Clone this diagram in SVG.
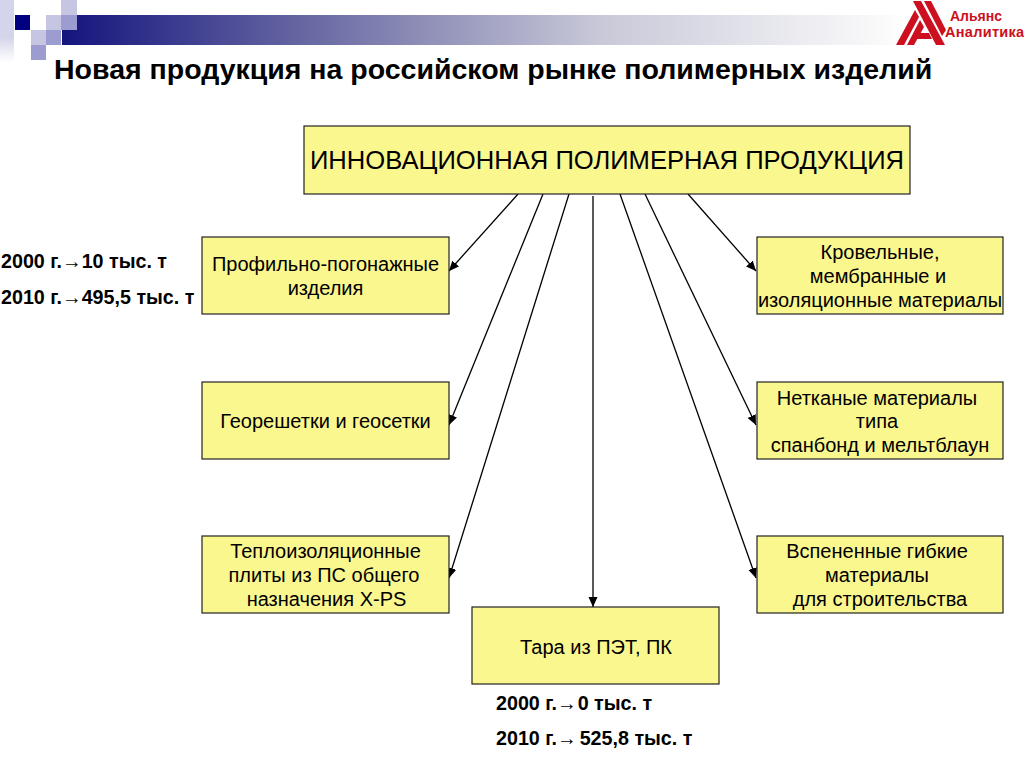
<svg xmlns="http://www.w3.org/2000/svg" width="1024" height="768" viewBox="0 0 1024 768">
<style>
text{font-family:"Liberation Sans",Arial,sans-serif;fill:#000}
.t{font-size:20px;text-anchor:middle}
.b{font-size:19.7px;font-weight:bold}
.ar{font-family:"Liberation Sans",sans-serif;font-weight:normal}
.n{fill:#fbf78f;stroke:#222;stroke-width:1.2}
.c line{stroke:#000;stroke-width:1.3;marker-end:url(#a)}
.l{fill:#cc1020}
.lt{fill:#cc1020;font-size:14.500px;font-weight:bold;letter-spacing:.3px}
</style>
<defs>
<marker id="a" markerUnits="userSpaceOnUse" markerWidth="11" markerHeight="10" refX="10" refY="5" orient="auto"><path d="M0 0.5L10 5L0 9.500Z" fill="#000"/></marker>
<linearGradient id="g1" gradientUnits="userSpaceOnUse" x1="62" y1="0" x2="900" y2="0"><stop offset="0" stop-color="#14147e"/><stop offset=".3" stop-color="#6a6aa4"/><stop offset=".64" stop-color="#c8c8d8"/><stop offset="1" stop-color="#fdfdfd"/></linearGradient>
<linearGradient id="g3" x1="0" y1="0" x2="0" y2="1"><stop offset=".6" stop-color="#d4d4ea"/><stop offset="1" stop-color="#ffffff"/></linearGradient>
</defs>
<g id="decor">
<rect x="62" y="15" width="838" height="30" fill="url(#g1)"/>
<rect x="0" y="0" width="14" height="62" fill="url(#g3)"/>
<rect x="15" y="15" width="15" height="15" fill="#000080"/>
<rect x="46" y="15" width="15" height="15" fill="#c6c6e2"/>
<rect x="61" y="0" width="16" height="15" fill="#c6c6e2"/>
<rect x="61" y="15" width="16" height="15" fill="#9c9cd0"/>
<rect x="31" y="30" width="15" height="15" fill="#c6c6e2"/>
<rect x="46" y="30" width="15" height="15" fill="#9c9cd0"/>
<rect x="31" y="45" width="15" height="15" fill="#9c9cd0"/>
</g>
<g id="logo">
<path class="l" d="M896 45L915 10L919 17L904 45Z"/>
<path class="l" d="M907 45L920 20L924 27L914 45Z"/>
<path class="l" d="M913 1H921L945 45H936Z"/>
<path class="l" d="M924 1H931L946 30L942 36L938 28Z"/>
<path class="l" d="M917 33H929L932 39H914Z"/>
<text class="lt" x="950" y="21" style="font-size:14px;letter-spacing:0">Альянс</text>
<text class="lt" x="945" y="37">Аналитика</text>
</g>
<text id="title" x="54" y="79" style="font-size:28.5px;font-weight:bold">Новая продукция на российском рынке полимерных изделий</text>
<g id="connectors" class="c">
<line x1="518" y1="194" x2="449" y2="271"/>
<line x1="543" y1="194" x2="449" y2="425"/>
<line x1="569" y1="194" x2="449" y2="578"/>
<line x1="593" y1="196" x2="593" y2="607"/>
<line x1="620" y1="194" x2="756" y2="578"/>
<line x1="645" y1="194" x2="756" y2="425"/>
<line x1="688" y1="194" x2="756" y2="271"/>
</g>
<g id="root"><rect class="n" x="304" y="126" width="606" height="68"/><text x="607" y="169" text-anchor="middle" style="font-size:25.6px">ИННОВАЦИОННАЯ ПОЛИМЕРНАЯ ПРОДУКЦИЯ</text></g>
<g id="n1"><rect class="n" x="202" y="237" width="247" height="77"/><text class="t" x="325.500" y="271">Профильно-погонажные</text><text class="t" x="325.500" y="295">изделия</text></g>
<g id="n2"><rect class="n" x="202" y="382" width="247" height="77"/><text class="t" x="325.500" y="428">Георешетки и геосетки</text></g>
<g id="n3"><rect class="n" x="202" y="536" width="247" height="77"/><text class="t" x="325.500" y="558">Теплоизоляционные</text><text class="t" x="324" y="582">плиты из ПС общего</text><text class="t" x="326.500" y="606">назначения X-PS</text></g>
<g id="n4"><rect class="n" x="472" y="607" width="247" height="77"/><text class="t" x="596" y="654">Тара из ПЭТ, ПК</text></g>
<g id="n5"><rect class="n" x="757" y="237" width="246" height="77"/><text class="t" x="880" y="259">Кровельные,</text><text class="t" x="878" y="283">мембранные и</text><text class="t" x="880" y="307">изоляционные материалы</text></g>
<g id="n6"><rect class="n" x="757" y="382" width="246" height="77"/><text class="t" x="877" y="405">Нетканые материалы</text><text class="t" x="877" y="428">типа</text><text class="t" x="880" y="452">спанбонд и мельтблаун</text></g>
<g id="n7"><rect class="n" x="757" y="536" width="246" height="77"/><text class="t" x="877" y="558">Вспененные гибкие</text><text class="t" x="877" y="582">материалы</text><text class="t" x="880" y="606">для строительства</text></g>
<g id="notes">
<text class="b" x="1" y="268">2000 г.<tspan class="ar">→</tspan>10 тыс. т</text>
<text class="b" x="1" y="304">2010 г.<tspan class="ar">→</tspan>495,5 тыс. т</text>
<text class="b" x="496" y="710">2000 г.<tspan class="ar">→</tspan><tspan dx="1">0 тыс. т</tspan></text>
<text class="b" x="496" y="745">2010 г.<tspan class="ar">→</tspan><tspan dx="3">525,8 тыс. т</tspan></text>
</g>
</svg>
